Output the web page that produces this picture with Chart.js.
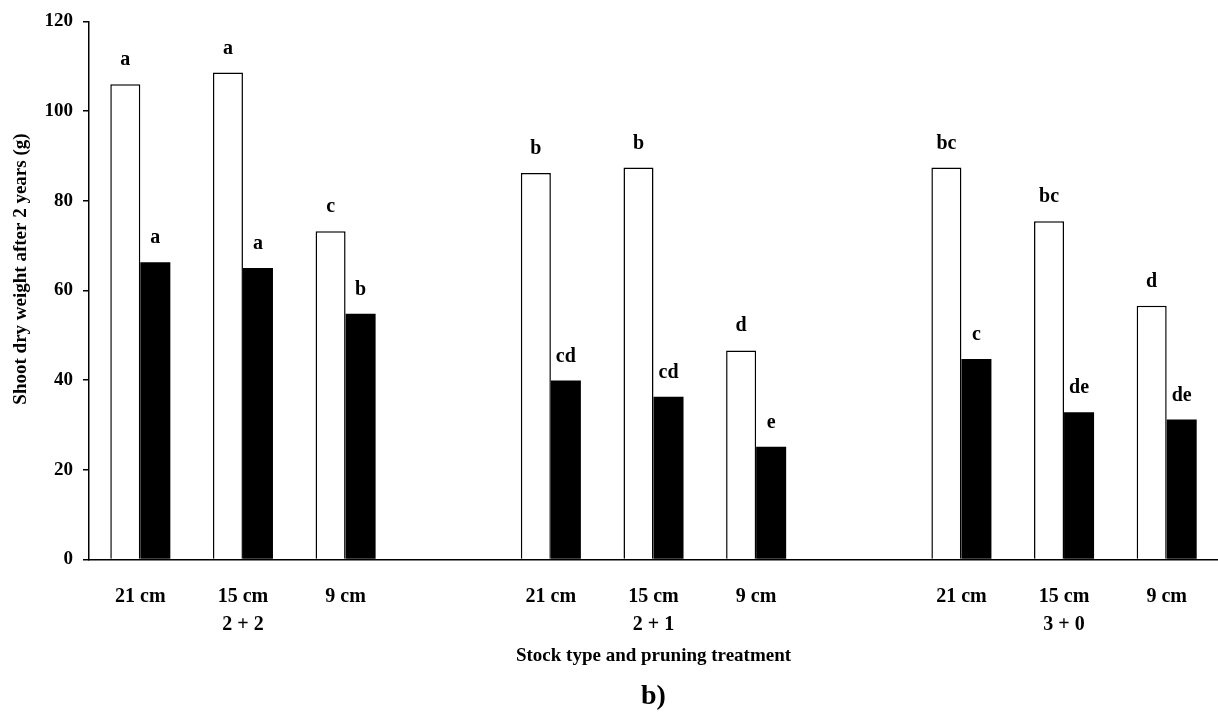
<!DOCTYPE html>
<html>
<head>
<meta charset="utf-8">
<script src="https://cdn.jsdelivr.net/npm/chart.js"></script>
<style>
  body { margin: 0; background: #fff; }
  canvas { display: block; }
</style>
</head>
<body>
<canvas id="chart_b" width="1218" height="715"></canvas>
<script>
// stock type / pruning treatment slots, empty slot between stock types
const treatments = [
    "21 cm", ["15 cm", "2 + 2"], "9 cm", "",
    "21 cm", ["15 cm", "2 + 1"], "9 cm", "",
    "21 cm", ["15 cm", "3 + 0"], "9 cm"
];

// open bars
const openValues = [106.0, 108.6, 73.2, null, 86.2, 87.4, 46.6, null, 87.4, 75.4, 56.6];
const openLetters = ["a", "a", "c", "", "b", "b", "d", "", "bc", "bc", "d"];

// filled bars
const filledValues = [66.3, 65.0, 54.8, null, 39.9, 36.3, 25.1, null, 44.7, 32.8, 31.2];
const filledLetters = ["a", "a", "b", "", "cd", "cd", "e", "", "c", "de", "de"];

const yTicks = [0, 20, 40, 60, 80, 100, 120];

const serif = "'Liberation Serif', 'Times New Roman', serif";

// letters above each bar
const letterPlugin = {
    id: "letters",
    afterDatasetsDraw(chart) {
        const ctx = chart.ctx;
        const sets = [openLetters, filledLetters];
        ctx.save();
        ctx.fillStyle = "#000";
        ctx.font = "bold 20px " + serif;
        ctx.textAlign = "center";
        ctx.textBaseline = "alphabetic";
        sets.forEach((letters, di) => {
            const meta = chart.getDatasetMeta(di);
            meta.data.forEach((bar, i) => {
                if (!letters[i]) return;
                ctx.fillText(letters[i], bar.x, bar.y - 19);
            });
        });
        ctx.restore();
    }
};

const canvas = document.getElementById("chart_b");

new Chart(canvas, {
    type: "bar",
    data: {
        labels: treatments,
        datasets: [
            {
                label: "open",
                data: openValues,
                backgroundColor: "#fff",
                borderColor: "#000",
                borderWidth: 1.5
            },
            {
                label: "filled",
                data: filledValues,
                backgroundColor: "#000",
                borderColor: "#000",
                borderWidth: 0
            }
        ]
    },
    options: {
        responsive: false,
        animation: false,
        devicePixelRatio: 1,
        categoryPercentage: 0.585,
        barPercentage: 1,
        layout: { padding: { top: 20, right: 0, left: 0, bottom: 0 } },
        plugins: {
            legend: { display: false },
            tooltip: { enabled: false },
            title: {
                display: true,
                position: "bottom",
                fullSize: false,
                text: "b)",
                color: "#000",
                font: { family: serif, size: 28, weight: "bold" },
                padding: { top: 0, bottom: 1 }
            }
        },
        scales: {
            x: {
                grid: { display: false },
                border: { display: true, color: "#000", width: 1.5 },
                ticks: {
                    color: "#000",
                    padding: 16,
                    maxRotation: 0,
                    autoSkip: false,
                    font: { family: serif, size: 20, weight: "bold", lineHeight: 1.38 }
                },
                title: {
                    display: true,
                    text: "Stock type and pruning treatment",
                    color: "#000",
                    font: { family: serif, size: 19, weight: "bold" },
                    padding: { top: 0, bottom: 13 }
                },
                afterFit: scale => { scale.height = 121; }
            },
            y: {
                min: 0,
                max: 120,
                afterBuildTicks: scale => {
                    scale.ticks = yTicks.map(v => ({ value: v }));
                },
                grid: {
                    display: true,
                    drawOnChartArea: false,
                    drawTicks: true,
                    tickLength: 6,
                    color: "#000",
                    lineWidth: 1.5
                },
                border: { display: true, color: "#000", width: 1.5 },
                ticks: {
                    color: "#000",
                    padding: 10,
                    font: { family: serif, size: 19, weight: "bold" }
                },
                title: {
                    display: true,
                    text: "         Shoot dry weight after 2 years (g)",
                    color: "#000",
                    font: { family: serif, size: 19, weight: "bold" },
                    padding: { top: 10, bottom: 0 }
                },
                afterFit: scale => { scale.width = 89; }
            }
        }
    },
    plugins: [letterPlugin]
});
</script>
</body>
</html>
